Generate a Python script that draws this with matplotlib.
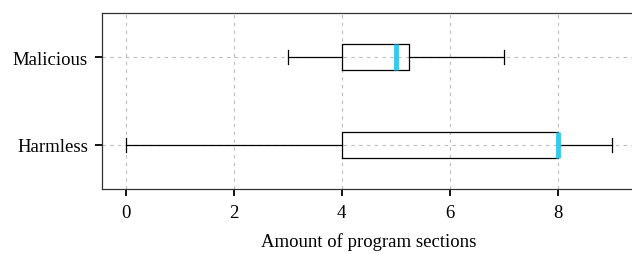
import matplotlib
matplotlib.use("Agg")
import matplotlib.pyplot as plt

plt.rcParams['font.family'] = ['Liberation Serif', 'DejaVu Serif']

categories = ["Harmless", "Malicious"]
# five-number summaries: whisker low, q1, median, q3, whisker high
whislo = [0, 3]
q1 = [4, 4]
med = [8, 5]
q3 = [8, 5.25]
whishi = [9, 7]

stats = []
for i, c in enumerate(categories):
    stats.append(dict(label=c, whislo=whislo[i], q1=q1[i], med=med[i],
                      q3=q3[i], whishi=whishi[i], fliers=[]))

fig = plt.figure(figsize=(6.32, 2.55), dpi=100)
ax = fig.add_axes([0.161, 0.255, 0.845, 0.69])

ax.grid(True, linestyle=(0, (3, 4)), color='#bbbbbb', linewidth=0.8)
ax.set_axisbelow(True)

ax.bxp(stats, positions=[1, 2], widths=0.3, vert=False, showfliers=False,
       boxprops=dict(color='black', linewidth=0.9),
       whiskerprops=dict(color='black', linewidth=0.9),
       capprops=dict(color='black', linewidth=0.9),
       medianprops=dict(color='#33cbed', linewidth=3.5, solid_capstyle='butt'))

ax.set_xlim(-0.45, 9.45)
ax.set_ylim(0.5, 2.5)
ax.set_yticks([1, 2])
ax.set_yticklabels(categories)
ax.set_xticks([0, 2, 4, 6, 8])
ax.tick_params(axis='both', labelsize=13.5, length=5, width=1.3, color='black', pad=6)
ax.tick_params(axis='y', pad=5)
ax.set_xlabel("Amount of program sections", fontsize=13.5, labelpad=8)
for s in ax.spines.values():
    s.set_color('#333333')
    s.set_linewidth(0.9)
ax.spines['right'].set_visible(False)

fig.savefig("out.png", dpi=100)
